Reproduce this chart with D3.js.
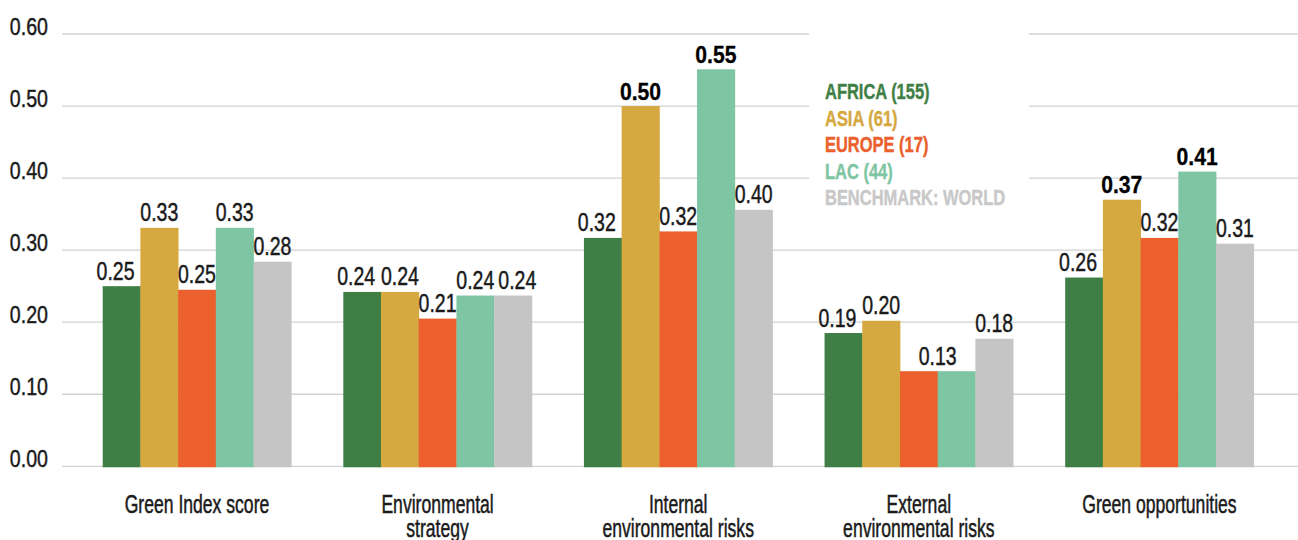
<!DOCTYPE html>
<html>
<head>
<meta charset="utf-8">
<script src="https://cdn.jsdelivr.net/npm/d3@7"></script>
<style>
  html, body { margin: 0; padding: 0; background: #fff; }
  svg { display: block; }
  text { font-family: "Liberation Sans", Arial, sans-serif; }
</style>
</head>
<body>
<svg id="chart" width="1298" height="540"></svg>
<script>
// ---------- DATA ----------
const categories = [
  ["Green Index score"],
  ["Environmental", "strategy"],
  ["Internal", "environmental risks"],
  ["External", "environmental risks"],
  ["Green opportunities"]
];
const seriesNames = ["AFRICA (155)", "ASIA (61)", "EUROPE (17)", "LAC (44)", "BENCHMARK: WORLD"];
const africa = [0.250, 0.242, 0.317, 0.185, 0.262];
const asia   = [0.331, 0.242, 0.500, 0.202, 0.370];
const europe = [0.245, 0.205, 0.326, 0.132, 0.317];
const lac    = [0.331, 0.237, 0.551, 0.132, 0.409];
const world  = [0.284, 0.237, 0.356, 0.177, 0.309];
const africaLabels = ["0.25", "0.24", "0.32", "0.19", "0.26"];
const asiaLabels   = ["0.33", "0.24", "0.50", "0.20", "0.37"];
const europeLabels = ["0.25", "0.21", "0.32", "0.13", "0.32"];
const lacLabels    = ["0.33", "0.24", "0.55", null,   "0.41"];
const worldLabels  = ["0.28", "0.24", "0.40", "0.18", "0.31"];
const asiaBold = [false, false, true, false, true];
const lacBold  = [false, false, true, false, true];
const yTicks = [0, 0.1, 0.2, 0.3, 0.4, 0.5, 0.6];

// ---------- STYLE ----------
const colors = ["#3f7f46", "#d6a840", "#eb602c", "#7ec5a4", "#c5c5c5"];
const legendColors = ["#3f7f46", "#d6a840", "#eb602c", "#7ec5a4", "#c8c8c8"];
const noBold = [false, false, false, false, false];
const textColor = "#1a1a1a";

const series = [
  { name: seriesNames[0], values: africa, labels: africaLabels, bold: noBold },
  { name: seriesNames[1], values: asia,   labels: asiaLabels,   bold: asiaBold },
  { name: seriesNames[2], values: europe, labels: europeLabels, bold: noBold },
  { name: seriesNames[3], values: lac,    labels: lacLabels,    bold: lacBold },
  { name: seriesNames[4], values: world,  labels: worldLabels,  bold: noBold }
];

const svg = d3.select("#chart");
const catKeys = categories.map(c => c.join(" "));

const x0 = d3.scaleBand().domain(catKeys).range([76.7, 1279.7])
  .paddingInner(0.2165).paddingOuter(0.108);
const x1 = d3.scaleBand().domain(d3.range(series.length)).range([0, x0.bandwidth()]);
const y = d3.scaleLinear().domain([0, 0.6]).range([466.3, 34]);

// gridlines
svg.append("g").selectAll("line").data(yTicks).join("line")
  .attr("x1", 62).attr("x2", 1298)
  .attr("y1", d => y(d)).attr("y2", d => y(d))
  .attr("stroke", "#d2d2d2").attr("stroke-width", 1.3);

// tick labels
const yAxis = d3.axisLeft(y).tickValues(yTicks).tickFormat(d3.format(".2f")).tickSize(0);
const ya = svg.append("g").attr("transform", "translate(48,0)").call(yAxis);
ya.select(".domain").remove();
ya.selectAll("text")
  .attr("x", 0).attr("dy", null).attr("y", 0)
  .attr("transform", "scale(0.8,1)")
  .attr("font-size", 24.5).attr("fill", textColor)
  .attr("stroke", textColor).attr("stroke-width", 0.45)
  .attr("font-family", "'Liberation Sans', Arial, sans-serif");

// legend background (interrupts gridlines)
svg.append("rect").attr("x", 809).attr("y", 20).attr("width", 220).attr("height", 195).attr("fill", "#fff");

// bars
const groups = svg.append("g").selectAll("g").data(catKeys).join("g")
  .attr("transform", d => `translate(${x0(d)},0)`);

groups.each(function(cat, ci) {
  const g = d3.select(this);
  series.forEach((s, si) => {
    const v = s.values[ci];
    g.append("rect")
      .attr("x", x1(si)).attr("width", x1.bandwidth() + 0.4)
      .attr("y", y(v)).attr("height", y(0) - y(v) + 1)
      .attr("fill", colors[si]);
  });
  let prevRight = -Infinity, prevBaseline = null;
  series.forEach((s, si) => {
    const lab = s.labels[ci];
    if (lab == null) return;
    const v = s.values[ci];
    let cx = x1(si) + x1.bandwidth() / 2;
    const next = series[si + 1];
    if (next && next.labels[ci] == null) cx = x1(si) + x1.bandwidth();
    if (si === 0) cx -= 6;
    const b = s.bold[ci];
    const sx = b ? 0.9 : 0.78;
    const by = y(v) - 6.5;
    const t = g.append("text")
      .attr("text-anchor", "middle")
      .attr("font-size", b ? 23.5 : 25)
      .attr("font-weight", b ? "bold" : "normal")
      .attr("fill", b ? "#000" : textColor)
      .attr("stroke", b ? "#000" : textColor)
      .attr("stroke-width", b ? 0.3 : 0.45)
      .text(lab);
    const w = t.node().getComputedTextLength() * sx;
    // avoid overlapping the previous label if it sits at a similar height
    if (prevBaseline !== null && Math.abs(prevBaseline - by) < 20 && cx - w / 2 < prevRight + 4) {
      cx = prevRight + 4 + w / 2;
    }
    t.attr("transform", `translate(${cx},${by}) scale(${sx},1)`);
    prevRight = cx + w / 2;
    prevBaseline = by;
  });
});

// category labels
const xa = svg.append("g").selectAll("text").data(categories).join("text")
  .attr("transform", (d, i) => `translate(${x0(catKeys[i]) + x0.bandwidth() / 2},512.5) scale(0.69,1)`)
  .attr("text-anchor", "middle")
  .attr("font-size", 25.5)
  .attr("fill", textColor)
  .attr("stroke", textColor).attr("stroke-width", 0.5);
xa.selectAll("tspan").data(d => d).join("tspan")
  .attr("x", 0)
  .attr("dy", (d, i) => i === 0 ? 0 : 25)
  .text(d => d);

// legend
svg.append("g").selectAll("text").data(seriesNames).join("text")
  .attr("transform", (d, i) => `translate(825,${99 + i * 26.5}) scale(0.77,1)`)
  .attr("font-size", 21.4)
  .attr("font-weight", "bold")
  .attr("fill", (d, i) => legendColors[i])
  .attr("stroke", (d, i) => legendColors[i]).attr("stroke-width", 0.4)
  .text(d => d);
</script>
</body>
</html>
